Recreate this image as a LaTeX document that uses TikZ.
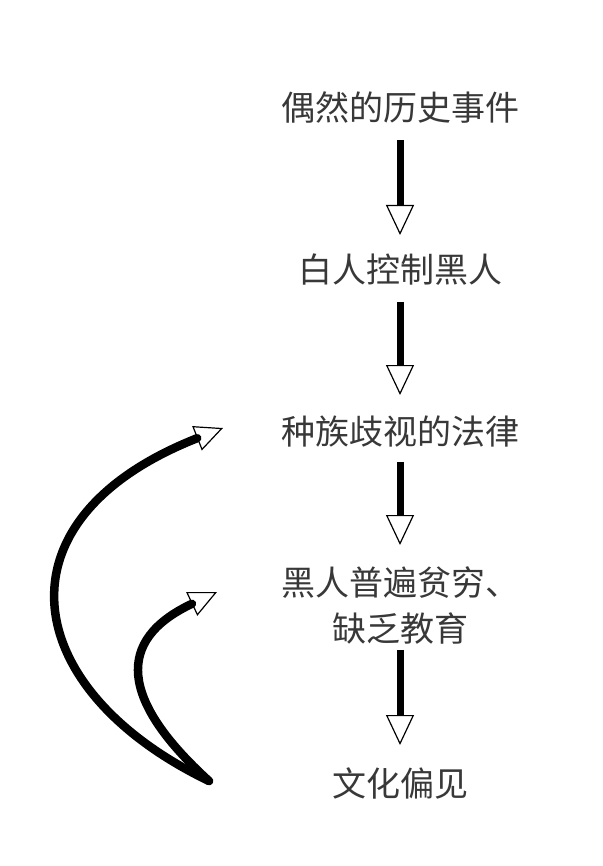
\documentclass[tikz,border=0pt]{standalone}
\usepackage{fontspec}
\newfontfamily\cjk{Noto Sans CJK SC}
\usetikzlibrary{arrows.meta}
\tikzset{
  lbl/.style={font=\cjk\fontsize{34}{46}\selectfont, text=black!78, inner sep=0pt, align=center},
  flow/.style={line width=7pt, -{Triangle[open, length=30pt, width=28pt, line width=1.2pt]}},
  loop/.style={line width=8.5pt, line cap=round, -{Triangle[open, length=28pt, width=26pt, line width=1.2pt]}}
}
\begin{document}
\begin{tikzpicture}[x=1pt, y=-1pt]
\useasboundingbox (0,0) rectangle (602,866);
\node[lbl] (a) at (400,107) {偶然的历史事件};
\node[lbl] (b) at (400,270) {白人控制黑人};
\node[lbl] (c) at (400,432) {种族歧视的法律};
\node[lbl] (d) at (400,605) {黑人普遍贫穷、\\缺乏教育};
\node[lbl] (e) at (400,783) {文化偏见};
\draw[flow, shorten <=33pt, shorten >=35pt] (a.center) -- (b.center);
\draw[flow, shorten <=32pt, shorten >=37pt] (b.center) -- (c.center);
\draw[flow, shorten <=30pt, shorten >=60pt] (c.center) -- (d.center);
\draw[flow, shorten <=45pt, shorten >=38pt] (d.center) -- (e.center);
\coordinate (s) at (209,781);
\coordinate (t1) at (223,428);
\coordinate (t2) at (217,592);
\draw[loop] (s) .. controls (20,690) and (-10,520) .. (t1);
\draw[loop] (s) .. controls (120,700) and (115,640) .. (t2);
\end{tikzpicture}
\end{document}
